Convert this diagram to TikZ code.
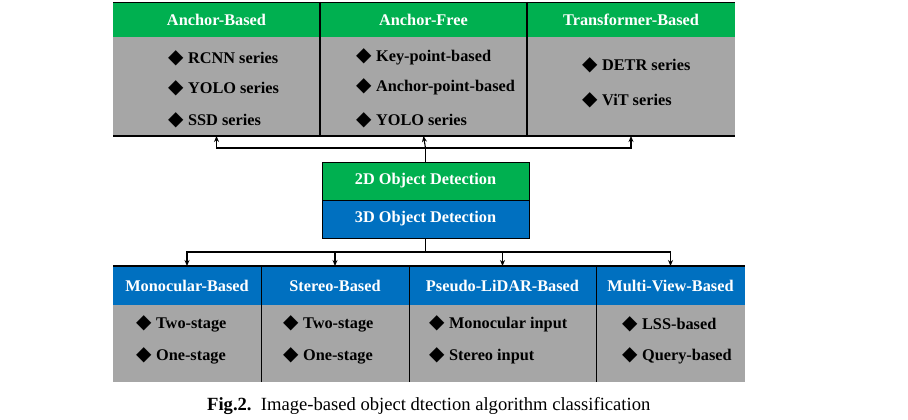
\documentclass[tikz,border=0pt]{standalone}
\usepackage{fontspec}
\setmainfont{Liberation Serif}
\newfontfamily\symfont{DejaVu Sans}
\usetikzlibrary{arrows.meta}
\definecolor{gr}{HTML}{00B050}
\definecolor{bl}{HTML}{0070C0}
\definecolor{gy}{HTML}{A6A6A6}
\newcommand\dia{{\symfont\fontsize{20}{20}\selectfont ◆}\hspace{4.5pt}}
\tikzset{
  cell/.style={anchor=north west, inner sep=0pt, outer sep=0pt, text=white, font=\bfseries\fontsize{16.3}{18}\selectfont},
  hg/.style={cell, fill=gr, minimum height=35pt},
  hb/.style={cell, fill=bl, minimum height=39pt},
  body/.style={anchor=north west, inner sep=0pt, outer sep=0pt, fill=gy},
  item/.style={anchor=west, inner sep=0pt, font=\bfseries\fontsize{16.3}{18}\selectfont},
  sep/.style={line width=1.4pt},
  arr/.style={line width=1.1pt, -{Stealth[length=6pt,width=5pt]}},
}
\begin{document}
\begin{tikzpicture}[x=1pt,y=-1pt]
\useasboundingbox (0,0) rectangle (908,420);
% top row
\node[hg, minimum width=207pt] (ahA) at (113,2) {Anchor-Based};
\node[hg, minimum width=207pt] (ahF) at (320,2) {Anchor-Free};
\node[hg, minimum width=208pt] (ahT) at (527,2) {Transformer-Based};
\node[body, minimum width=207pt, minimum height=99pt] (abA) at (113,37) {};
\node[body, minimum width=207pt, minimum height=99pt] (abF) at (320,37) {};
\node[body, minimum width=208pt, minimum height=99pt] (abT) at (527,37) {};
\draw[line width=0.8pt] (ahA.north west) -- (ahT.north east);
\draw[sep] (abA.south west) -- (abT.south east);
\draw[sep] (ahF.north west) -- (abF.south west);
\draw[sep] (ahT.north west) -- (abT.south west);
\node[item] (i1) at (168,58) {\dia RCNN series};
\node[item] (i2) at (168,88) {\dia YOLO series};
\node[item] (i3) at (168,120) {\dia SSD series};
\node[item] (i4) at (356,57) {\dia Key-point-based};
\node[item] (i5) at (356,87) {\dia Anchor-point-based};
\node[item] (i6) at (356,120) {\dia YOLO series};
\node[item] (i7) at (582,65) {\dia DETR series};
\node[item] (i8) at (582,100) {\dia ViT series};
% center
\node[cell, fill=gr, draw=black, line width=0.9pt, minimum width=207pt, minimum height=38pt] (d2) at (322,162) {2D Object Detection};
\node[cell, fill=bl, draw=black, line width=0.9pt, minimum width=207pt, minimum height=38pt] (d3) at (322,200) {3D Object Detection};
% bottom row
\node[hb, minimum width=148pt] (bhM) at (113,266) {Monocular-Based};
\node[hb, minimum width=148pt] (bhS) at (261,266) {Stereo-Based};
\node[hb, minimum width=187pt] (bhP) at (409,266) {Pseudo-LiDAR-Based};
\node[hb, minimum width=149pt] (bhV) at (596,266) {Multi-View-Based};
\node[body, minimum width=148pt, minimum height=77pt] (bbM) at (113,305) {};
\node[body, minimum width=148pt, minimum height=77pt] (bbS) at (261,305) {};
\node[body, minimum width=187pt, minimum height=77pt] (bbP) at (409,305) {};
\node[body, minimum width=149pt, minimum height=77pt] (bbV) at (596,305) {};
\draw[sep] (bhM.north west) -- (bhV.north east);
\draw[line width=1pt] (bhS.north west) -- (bbS.south west);
\draw[line width=1pt] (bhP.north west) -- (bbP.south west);
\draw[line width=1pt] (bhV.north west) -- (bbV.south west);
\node[item] (j1) at (136,324) {\dia Two-stage};
\node[item] (j2) at (136,356) {\dia One-stage};
\node[item] (j3) at (283,324) {\dia Two-stage};
\node[item] (j4) at (283,356) {\dia One-stage};
\node[item] (j5) at (429,324) {\dia Monocular input};
\node[item] (j6) at (429,356) {\dia Stereo input};
\node[item] (j7) at (622,324) {\dia LSS-based};
\node[item] (j8) at (622,356) {\dia Query-based};
% connectors
\coordinate (jt) at (425.5,148);
\coordinate (jb) at (425.5,252);
\draw[line width=1.1pt] (d2.north) -- (jt);
\draw[arr] (jt) -| (abA.south);
\draw[arr] (jt) -- (abF.south);
\draw[arr] (jt) -| (abT.south);
\draw[line width=1.1pt] (d3.south) -- (jb);
\draw[arr] (jb) -| (bhM.north);
\draw[arr] (jb) -| (bhS.north);
\draw[arr] (jb) -| (bhP.north);
\draw[arr] (jb) -| (bhV.north);
% caption
\node[inner sep=0pt, anchor=base west, font=\fontsize{18.6}{20}\selectfont] (cap) at (207,410) {\textbf{Fig.2.}\ \ Image-based object dtection algorithm classification};
\end{tikzpicture}
\end{document}
